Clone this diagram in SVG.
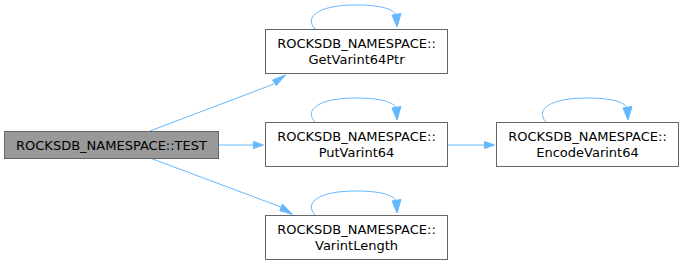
<svg xmlns="http://www.w3.org/2000/svg" width="683" height="266" viewBox="0 0 683 266">
  <style>
    .node rect { fill: #ffffff; stroke: #666666; stroke-width: 1; }
    .node.root rect { fill: #999999; }
    .node text { font-family: "DejaVu Sans", "Liberation Sans", sans-serif; font-size: 13px; fill: #000000; text-anchor: middle; }
    .edge { fill: none; stroke: #63b8ff; stroke-width: 1; }
    .head { fill: #63b8ff; stroke: #63b8ff; stroke-width: 1; }
  </style>
  <rect width="683" height="266" fill="#ffffff"/>

  <g id="edges">
    <!-- TEST -> GetVarint64Ptr -->
    <path class="edge" d="M150,131 L274,84"/>
    <polygon class="head" points="272.6,80 285.6,75 276.3,85.5"/>
    <!-- TEST -> PutVarint64 -->
    <path class="edge" d="M219,145 L253.5,145"/>
    <polygon class="head" points="253.5,141.5 263.5,145 253.5,148.5"/>
    <!-- TEST -> VarintLength -->
    <path class="edge" d="M150,158 L281,207"/>
    <polygon class="head" points="279.8,210.5 292.5,214.5 282.5,204"/>
    <!-- PutVarint64 -> EncodeVarint64 -->
    <path class="edge" d="M447,145 L484.5,145"/>
    <polygon class="head" points="484.5,141.5 494.5,145 484.5,148.5"/>
    <!-- self loops -->
    <path class="edge" d="M315,29 C304,17 318,5 356,5 C381,5 393,9 396.5,15"/>
    <polygon class="head" points="392,15 397,27 401,13.5"/>
    <path class="edge" d="M315,122 C304,110 318,98 356,98 C381,98 393,102 396.5,108"/>
    <polygon class="head" points="392,108 397,120 401,106.5"/>
    <path class="edge" d="M546,122 C535,110 549,98 587,98 C612,98 624,102 627.5,108"/>
    <polygon class="head" points="623,108 628,120 632,106.5"/>
    <path class="edge" d="M315,215 C304,203 318,191 356,191 C381,191 393,195 396.5,201"/>
    <polygon class="head" points="392,201 397,213 401,199.5"/>
  </g>

  <g id="node-test" class="node root">
    <rect x="4.5" y="131.5" width="214" height="27"/>
    <text x="111.5" y="149.5">ROCKSDB_NAMESPACE::TEST</text>
  </g>
  <g id="node-getvarint64ptr" class="node">
    <rect x="265.5" y="29.5" width="182" height="44"/>
    <text x="356.5" y="48">ROCKSDB_NAMESPACE::</text>
    <text x="356.5" y="63.5">GetVarint64Ptr</text>
  </g>
  <g id="node-putvarint64" class="node">
    <rect x="265.5" y="122.5" width="182" height="44"/>
    <text x="356.5" y="141">ROCKSDB_NAMESPACE::</text>
    <text x="356.5" y="156.5">PutVarint64</text>
  </g>
  <g id="node-encodevarint64" class="node">
    <rect x="496.5" y="122.5" width="182" height="44"/>
    <text x="587.5" y="141">ROCKSDB_NAMESPACE::</text>
    <text x="587.5" y="156.5">EncodeVarint64</text>
  </g>
  <g id="node-varintlength" class="node">
    <rect x="265.5" y="215.5" width="182" height="44"/>
    <text x="356.5" y="234">ROCKSDB_NAMESPACE::</text>
    <text x="356.5" y="249.5">VarintLength</text>
  </g>
</svg>
